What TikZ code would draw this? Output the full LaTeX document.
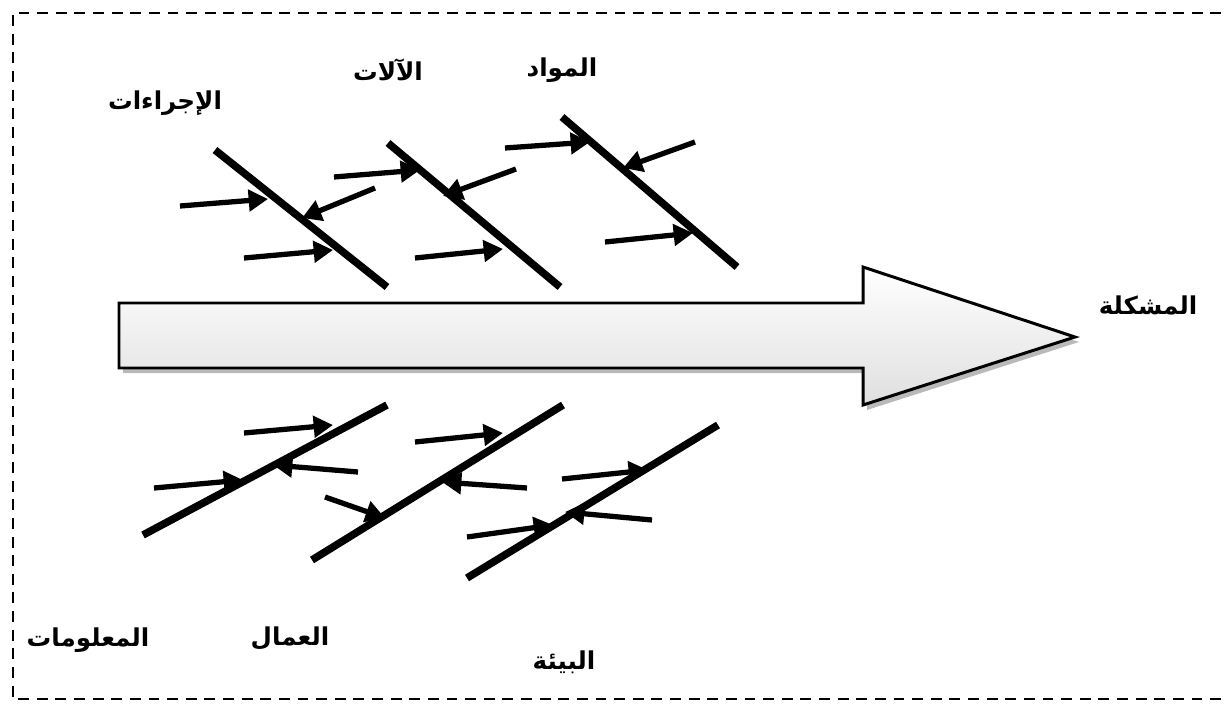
\documentclass[tikz,border=0pt]{standalone}
\usepackage{fontspec}
\newfontfamily\arabicfont[Script=Arabic]{DejaVu Sans}
\TeXXeTstate=1
\usetikzlibrary{arrows.meta}
\tikzset{
  bone/.style={line width=4.3pt, line cap=butt},
  cause/.style={line width=3pt, -{Triangle[length=11pt,width=12pt]}},
  label/.style={font=\arabicfont\bfseries\fontsize{14}{16}\selectfont, inner sep=0pt},
  frame/.style={line width=1.4pt, dash pattern=on 6.2pt off 4.4pt},
}
\newcommand{\ar}[1]{\beginR #1\endR}
\begin{document}
\begin{tikzpicture}[x=0.02cm, y=-0.02cm]
\useasboundingbox (0,0) rectangle (1224,710);
% dashed frame (open on the right)
\draw[frame] (1240,13) -- (13,13) -- (13,699) -- (1240,699);

% main spine arrow with shadow
\coordinate (s1) at (119,303);
\coordinate (s2) at (863,303);
\coordinate (s3) at (863,267);
\coordinate (tip) at (1075,337);
\coordinate (s5) at (863,405);
\coordinate (s6) at (863,368);
\coordinate (s7) at (119,368);
\fill[gray!55] ([shift={(4,5)}]s1) -- ([shift={(4,5)}]s2) -- ([shift={(4,5)}]s3) -- ([shift={(4,5)}]tip) -- ([shift={(4,5)}]s5) -- ([shift={(4,5)}]s6) -- ([shift={(4,5)}]s7) -- cycle;
\draw[line width=1.7pt, top color=white, bottom color=gray!25, line join=miter]
  (s1) -- (s2) -- (s3) -- (tip) -- (s5) -- (s6) -- (s7) -- cycle;

% upper bones
\coordinate (b1a) at (215,150); \coordinate (b1b) at (387,287);
\coordinate (b2a) at (388,143); \coordinate (b2b) at (560,287);
\coordinate (b3a) at (562,117); \coordinate (b3b) at (737,267);
\draw[bone] (b1a) -- (b1b);
\draw[bone] (b2a) -- (b2b);
\draw[bone] (b3a) -- (b3b);

% lower bones
\coordinate (b4a) at (143,535); \coordinate (b4b) at (387,405);
\coordinate (b5a) at (312,560); \coordinate (b5b) at (563,405);
\coordinate (b6a) at (467,578); \coordinate (b6b) at (718,425);
\draw[bone] (b4a) -- (b4b);
\draw[bone] (b5a) -- (b5b);
\draw[bone] (b6a) -- (b6b);

% causes on bone 1
\coordinate (c11) at (180,206); \coordinate (e11) at (268,199);
\coordinate (c12) at (375,188); \coordinate (e12) at (302,218);
\coordinate (c13) at (244,258); \coordinate (e13) at (333,250);
\draw[cause] (c11) -- (e11);
\draw[cause] (c12) -- (e12);
\draw[cause] (c13) -- (e13);

% causes on bone 2
\coordinate (c21) at (334,177); \coordinate (e21) at (420,170);
\coordinate (c22) at (516,169); \coordinate (e22) at (443,196);
\coordinate (c23) at (415,258); \coordinate (e23) at (503,249);
\draw[cause] (c21) -- (e21);
\draw[cause] (c22) -- (e22);
\draw[cause] (c23) -- (e23);

% causes on bone 3
\coordinate (c31) at (505,148); \coordinate (e31) at (590,142);
\coordinate (c32) at (695,142); \coordinate (e32) at (623,168);
\coordinate (c33) at (605,242); \coordinate (e33) at (693,233);
\draw[cause] (c31) -- (e31);
\draw[cause] (c32) -- (e32);
\draw[cause] (c33) -- (e33);

% causes on bone 4
\coordinate (c41) at (244,433); \coordinate (e41) at (333,425);
\coordinate (c42) at (358,472); \coordinate (e42) at (273,465);
\coordinate (c43) at (154,488); \coordinate (e43) at (243,480);
\draw[cause] (c41) -- (e41);
\draw[cause] (c42) -- (e42);
\draw[cause] (c43) -- (e43);

% causes on bone 5
\coordinate (c51) at (325,497); \coordinate (e51) at (385,518);
\coordinate (c52) at (415,442); \coordinate (e52) at (503,433);
\coordinate (c53) at (527,488); \coordinate (e53) at (442,482);
\draw[cause] (c51) -- (e51);
\draw[cause] (c52) -- (e52);
\draw[cause] (c53) -- (e53);

% causes on bone 6
\coordinate (c61) at (562,479); \coordinate (e61) at (648,470);
\coordinate (c62) at (652,520); \coordinate (e62) at (565,512);
\coordinate (c63) at (467,537); \coordinate (e63) at (553,525);
\draw[cause] (c61) -- (e61);
\draw[cause] (c62) -- (e62);
\draw[cause] (c63) -- (e63);

% category labels
\node[label] (lproc) at (165,103) {\ar{الإجراءات}};
\node[label] (lmach) at (388,70) {\ar{الآلات}};
\node[label] (lmat)  at (562,70) {\ar{المواد}};
\node[label] (linfo) at (88,640) {\ar{المعلومات}};
\node[label] (lwork) at (290,638) {\ar{العمال}};
\node[label] (lenv)  at (564,662) {\ar{البيئة}};
\node[label] (lprob) at (1148,305) {\ar{المشكلة}};
\end{tikzpicture}
\end{document}
